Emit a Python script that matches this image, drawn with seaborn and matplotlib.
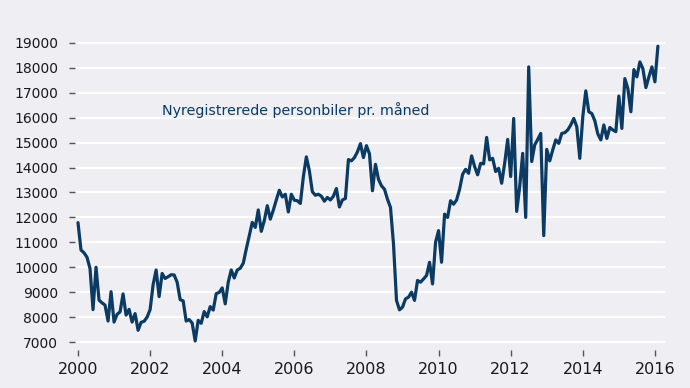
import numpy as np
import pandas as pd
import matplotlib
matplotlib.use("Agg")
import matplotlib.pyplot as plt
import seaborn as sns

# Nyregistrerede personbiler pr. måned, jan 2000 - feb 2016
values_2000 = [11790, 10690, 10580, 10400, 9950, 8300, 10000, 8680, 8570, 8480, 7840, 9020]
values_2001 = [7800, 8110, 8210, 8930, 8080, 8310, 7800, 8140, 7470, 7790, 7830, 8000]
values_2002 = [8300, 9300, 9890, 8820, 9750, 9550, 9620, 9700, 9690, 9400, 8700, 8650]
values_2003 = [7840, 7900, 7760, 7040, 7870, 7750, 8220, 8010, 8420, 8280, 8940, 8990]
values_2004 = [9170, 8530, 9400, 9890, 9570, 9890, 9960, 10160, 10730, 11270, 11800, 11600]
values_2005 = [12300, 11440, 11870, 12470, 11930, 12290, 12700, 13090, 12820, 12930, 12220, 12930]
values_2006 = [12690, 12670, 12560, 13630, 14430, 13870, 13030, 12890, 12930, 12850, 12650, 12800]
values_2007 = [12700, 12850, 13160, 12420, 12700, 12760, 14320, 14270, 14400, 14630, 14960, 14400]
values_2008 = [14880, 14550, 13070, 14130, 13530, 13270, 13130, 12730, 12400, 10930, 8670, 8290]
values_2009 = [8400, 8730, 8800, 9000, 8670, 9470, 9400, 9530, 9670, 10200, 9330, 11000]
values_2010 = [11470, 10200, 12130, 12000, 12670, 12530, 12700, 13130, 13730, 13930, 13770, 14470]
values_2011 = [14040, 13710, 14170, 14150, 15210, 14310, 14370, 13840, 13970, 13370, 14170, 15130]
values_2012 = [13640, 15970, 12240, 13240, 14570, 12000, 18040, 14240, 14910, 15130, 15370, 11270]
values_2013 = [14730, 14270, 14710, 15110, 14970, 15370, 15400, 15510, 15710, 15970, 15640, 14370]
values_2014 = [16040, 17080, 16240, 16170, 15880, 15350, 15110, 15710, 15170, 15610, 15510, 15440]
values_2015 = [16870, 15570, 17570, 17170, 16240, 17930, 17640, 18240, 17970, 17210, 17640, 18040]
values_2016 = [17440, 18870]

yearly = [values_2000, values_2001, values_2002, values_2003, values_2004, values_2005,
          values_2006, values_2007, values_2008, values_2009, values_2010, values_2011,
          values_2012, values_2013, values_2014, values_2015, values_2016]

rows = []
for i, vals in enumerate(yearly):
    for m, v in enumerate(vals):
        rows.append({"tid": 2000 + i + m / 12, "antal": v})
df = pd.DataFrame(rows)

x_ticks = list(range(2000, 2017, 2))
y_ticks = list(range(7000, 19001, 1000))
title_text = "Nyregistrerede personbiler pr. måned"

bg = "#efeff3"
line_color = "#0b3a63"

sns.set_theme(style="whitegrid")
plt.rcParams["font.family"] = ["DejaVu Sans"]

fig = plt.figure(figsize=(6.9, 3.88), dpi=100, facecolor=bg)
ax = fig.add_axes([75 / 690, 1 - 350 / 388, 590 / 690, 315 / 388])
ax.set_facecolor(bg)

sns.lineplot(data=df, x="tid", y="antal", color=line_color, linewidth=2.3, ax=ax)

ax.set_xlim(1999.917, 2016.28)
ax.set_ylim(6679, 19320)
ax.set_xticks(x_ticks)
ax.set_yticks(y_ticks)
ax.set_xlabel("")
ax.set_ylabel("")

ax.grid(axis="y", color="white", linewidth=1.6)
ax.grid(axis="x", visible=False)
for s in ax.spines.values():
    s.set_visible(False)

ax.tick_params(axis="y", which="both", direction="out", length=4, width=1,
               color="#555555", pad=8, labelsize=10, labelcolor="#1a1a1a", left=True)
ax.tick_params(axis="x", which="both", direction="out", length=4, width=1,
               color="#555555", pad=5, labelsize=11.5, labelcolor="#1a1a1a", bottom=True)

ax.text(2002.33, 16310, title_text, color=line_color, fontsize=10.3, va="center", ha="left")

fig.savefig("out.png", dpi=100, facecolor=bg)
